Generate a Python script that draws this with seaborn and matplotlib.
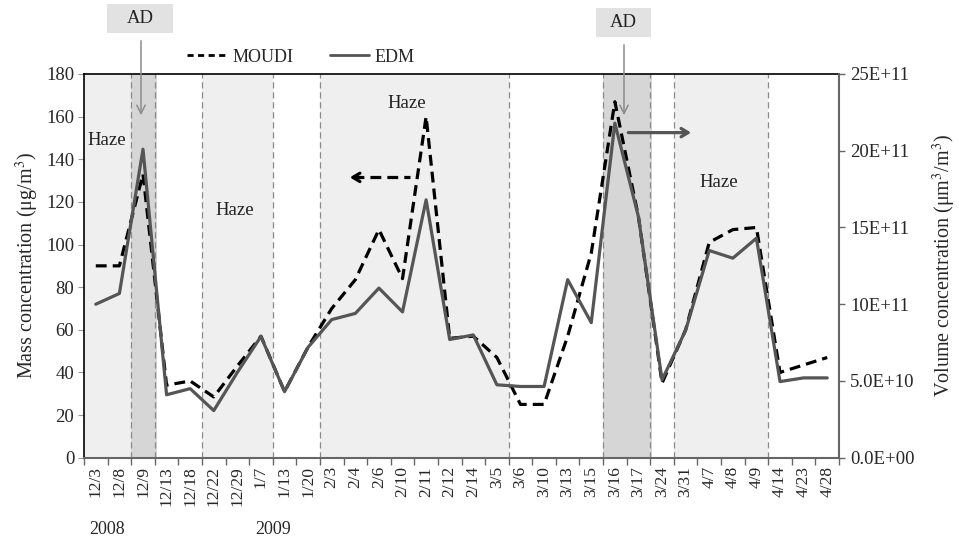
import matplotlib
matplotlib.use("Agg")
import matplotlib.pyplot as plt
import seaborn as sns
import pandas as pd
import numpy as np
from matplotlib.lines import Line2D
from matplotlib.patches import Rectangle

# ---------------- data ----------------
dates = ["12/3", "12/8", "12/9", "12/13", "12/18", "12/22", "12/29", "1/7",
         "1/13", "1/20", "2/3", "2/4", "2/6", "2/10", "2/11", "2/12", "2/14",
         "3/5", "3/6", "3/10", "3/13", "3/15", "3/16", "3/17", "3/24", "3/31",
         "4/7", "4/8", "4/9", "4/14", "4/23", "4/28"]

# MOUDI mass concentration (ug/m3), left axis
moudi = [90, 90, 133, 34, 36, 28.5, 43, 57,
         31, 52, 70, 83.5, 107, 84, 160, 56, 57,
         47, 25, 25, 57, 96, 167, 113, 35, 60,
         101, 107, 108, 40, 43.5, 47]

# EDM volume concentration (x 1E+11 um3/m3), right axis
edm = [10.0, 10.7, 20.1, 4.1, 4.5, 3.07, 5.56, 7.9,
       4.3, 7.2, 9.0, 9.4, 11.05, 9.5, 16.8, 7.7, 8.0,
       4.75, 4.64, 4.64, 11.6, 8.8, 21.8, 15.7, 5.07, 8.3,
       13.5, 13.0, 14.3, 4.96, 5.2, 5.2]

left_ticks = [0, 20, 40, 60, 80, 100, 120, 140, 160, 180]
right_ticks = [0, 5, 10, 15, 20, 25]
right_tick_labels = ["0.0E+00", "5.0E+10", "10E+11", "15E+11", "20E+11", "25E+11"]

haze_periods = [(-0.5, 1.5), (4.5, 7.5), (9.5, 17.5), (24.5, 28.5)]
ad_periods = [(1.5, 2.5), (21.5, 23.5)]
period_edges = [1.5, 2.5, 4.5, 7.5, 9.5, 17.5, 21.5, 23.5, 24.5, 28.5]

# ---------------- style ----------------
sns.set_style("white")
plt.rcParams['font.family'] = ['Liberation Serif', 'DejaVu Serif']
plt.rcParams['mathtext.fontset'] = 'stix'

W, H = 959, 544
fig = plt.figure(figsize=(W / 100, H / 100), dpi=100)
L, R, T, B = 84, 839, 74, 457.7
ax = fig.add_axes([L / W, 1 - B / H, (R - L) / W, (B - T) / H])
ax2 = ax.twinx()

n = len(dates)
df = pd.DataFrame({"x": np.arange(n), "MOUDI": moudi, "EDM": edm, "date": dates})

# shaded periods
for a, b in haze_periods:
    ax.axvspan(a, b, color="#efefef", zorder=0, lw=0)
for a, b in ad_periods:
    ax.axvspan(a, b + 0.08, color="#d6d6d6", zorder=0, lw=0)
for e in period_edges:
    ax.axvline(e, color="#8a8a8a", lw=0.9, ls=(0, (5, 3)), zorder=1)

# lines
sns.lineplot(data=df, x="x", y="MOUDI", ax=ax, color="black", lw=2.3, zorder=3)
ax.lines[-1].set_dashes([3.4, 1.9])
sns.lineplot(data=df, x="x", y="EDM", ax=ax2, color="#555555", lw=2.3, zorder=3)

ax.set_xlim(-0.5, n - 0.5)
ax.set_ylim(0, 180)
ax2.set_ylim(0, 25)

# x ticks
ax.set_xticks(np.arange(n))
ax.set_xticklabels(dates, rotation=90, fontsize=12.5)
ax.set_xticks(np.arange(-0.5, n, 1), minor=True)
ax.tick_params(axis="x", which="major", length=0, pad=6, bottom=True)
ax.tick_params(axis="x", which="minor", length=5, color="#666666", width=1, bottom=True, direction="out")
ax.set_xlabel("")

# y ticks
ax.set_yticks(left_ticks)
ax.set_yticklabels([str(t) for t in left_ticks], fontsize=13.5)
ax.tick_params(axis="y", length=4, color="#999999", width=0.8, left=True, pad=3)
ax2.set_yticks(right_ticks)
ax2.set_yticklabels(right_tick_labels, fontsize=13.5)
ax2.tick_params(axis="y", length=4, color="#666666", width=1, right=True, pad=4)

ax.set_ylabel("Mass concentration (μg/m$^3$)", fontsize=14.5, labelpad=4)
ax2.set_ylabel("Volume concentration (μm$^3$/m$^3$)", fontsize=14.5, labelpad=12, rotation=90)

# spines
for s in ["left", "top"]:
    ax.spines[s].set_color("black")
    ax.spines[s].set_linewidth(1.2)
ax.spines["bottom"].set_color("#666666")
ax.spines["bottom"].set_linewidth(1.5)
ax.spines["right"].set_visible(False)
for s in ["left", "top", "bottom"]:
    ax2.spines[s].set_visible(False)
ax2.spines["right"].set_color("#666666")
ax2.spines["right"].set_linewidth(1.5)

# Haze labels
for xd, yd in [(0.47, 149), (5.9, 116), (13.2, 166), (26.4, 129)]:
    ax.text(xd, yd, "Haze", ha="center", va="center", fontsize=13.5, color="#222222", zorder=4)

# MOUDI arrow (dashed, pointing left)
ax.plot([10.9, 13.3], [131.5, 131.5], color="black", lw=2.3, dashes=[3.4, 1.9], zorder=4)
ax.annotate("", xy=(10.65, 131.5), xytext=(11.2, 131.5),
            arrowprops=dict(arrowstyle="->, head_length=0.5, head_width=0.3", color="black", lw=2.3),
            zorder=4)
# EDM arrow (solid gray, pointing right)
ax.annotate("", xy=(25.35, 152.5), xytext=(22.45, 152.5),
            arrowprops=dict(arrowstyle="->, head_length=0.5, head_width=0.3", color="#555555", lw=2.3),
            zorder=4)

# AD boxes and arrows (figure pixels)
for (x0, x1, y0, y1, ax_x) in [(107, 173, 4, 33, 141), (596, 651, 8, 37, 624)]:
    fig.patches.append(Rectangle((x0 / W, 1 - y1 / H), (x1 - x0) / W, (y1 - y0) / H,
                                 transform=fig.transFigure, facecolor="#e2e2e2",
                                 edgecolor="none", zorder=5))
    fig.text((x0 + x1) / 2 / W, 1 - (y0 + y1) / 2 / H, "AD", ha="center", va="center",
             fontsize=13.5, color="#222222", zorder=6)
    ax.annotate("", xy=(ax_x / W, 1 - 118 / H), xytext=(ax_x / W, 1 - (y1 + 5) / H),
                xycoords="figure fraction", textcoords="figure fraction",
                arrowprops=dict(arrowstyle="->, head_length=0.6, head_width=0.3",
                                color="#8c8c8c", lw=1.1), annotation_clip=False)

# year labels
fig.text(106.7 / W, 1 - 530 / H, "2008", ha="center", va="center", fontsize=13)
fig.text(273 / W, 1 - 530 / H, "2009", ha="center", va="center", fontsize=13)

# legend
handles = [Line2D([], [], color="black", lw=2, dashes=[2.2, 1.6]),
           Line2D([], [], color="#555555", lw=2)]
fig.legend(handles, ["MOUDI", "EDM"], loc="center", bbox_to_anchor=(301 / W, 1 - 57 / H),
           ncol=2, frameon=False, handlelength=2.2, handletextpad=0.3, columnspacing=2.0,
           fontsize=13)

fig.savefig("out.png", dpi=100)
